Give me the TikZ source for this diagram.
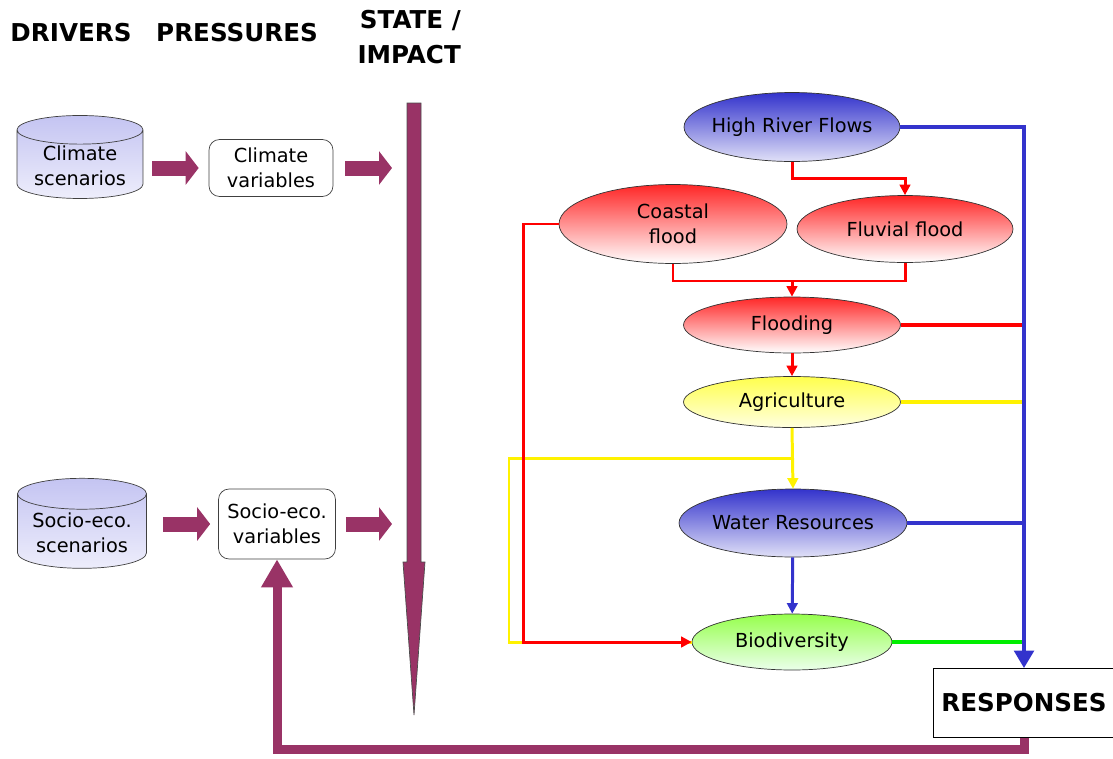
\documentclass[tikz,border=0pt]{standalone}
\usepackage{fontspec}
\setmainfont{DejaVu Sans}
\usetikzlibrary{arrows.meta,shapes.geometric}

\definecolor{maroon}{HTML}{993366}
\definecolor{flowblue}{HTML}{3333CC}
\definecolor{scenfill}{HTML}{C4C4F2}
\definecolor{lgreen}{HTML}{00EE00}

\begin{document}
\begin{tikzpicture}[x=0.02cm, y=-0.02cm,
	every node/.style={font=\fontsize{11}{14}\selectfont},
	head/.style={font=\bfseries\fontsize{14}{20}\selectfont},
	scen/.style={cylinder, shape border rotate=90, aspect=0.3, draw=black!75, top color=scenfill, bottom color=scenfill!30!white, align=center, inner sep=1pt},
	var/.style={draw=black!75, rounded corners=6pt, align=center, fill=white, inner sep=1pt},
	blob/.style={ellipse, draw=black!80, align=center, inner xsep=-0.6cm, inner ysep=0pt},
	bigarrow/.style={maroon, line width=0.3cm, -{Triangle[width=0.66cm,length=0.26cm]}},
	feedback/.style={maroon, line width=0.18cm, -{Triangle[width=0.6cm,length=0.56cm]}},
	link/.style={line width=1.7pt},
	bus/.style={line width=2.8pt},
	tip/.style={-{Triangle[width=6pt,length=6pt]}}]
	\useasboundingbox (0,0) rectangle (1113,758);
	% headings
	\node[head] (drv) at (71,33) {DRIVERS};
	\node[head] (prs) at (237,33) {PRESSURES};
	\node[head, align=right, anchor=east] (sti) at (467,37) {STATE /\\IMPACT};
	% drivers and pressures
	\node[scen, minimum width=2.52cm, minimum height=1.62cm] (cs) at (80,166) {Climate\\scenarios};
	\node[var, minimum width=2.48cm, minimum height=1.14cm] (cv) at (271,168) {Climate\\variables};
	\node[scen, minimum width=2.58cm, minimum height=1.8cm] (ss) at (82,533) {Socio-eco.\\scenarios};
	\node[var, minimum width=2.34cm, minimum height=1.4cm] (sv) at (277,524) {Socio-eco.\\variables};
	\coordinate (in1) at (392,168);
	\coordinate (in2) at (392,524);
	\coordinate (stTop) at (414,103);
	\coordinate (stTip) at (414,715);
	% state / impact
	\node[blob, minimum width=4.32cm, minimum height=1.38cm, top color=flowblue, bottom color=flowblue!15!white] (hrf) at (792,127) {High River Flows};
	\node[blob, minimum width=4.56cm, minimum height=1.58cm, top color=red!85, bottom color=white] (coast) at (673,224) {Coastal\\flood};
	\node[blob, minimum width=4.32cm, minimum height=1.34cm, top color=red!85, bottom color=white] (fluv) at (905,229) {Fluvial flood};
	\node[blob, minimum width=4.34cm, minimum height=1.12cm, top color=red!85, bottom color=white] (flood) at (792,325) {Flooding};
	\node[blob, minimum width=4.34cm, minimum height=1.02cm, top color=yellow!70, bottom color=yellow!12] (agri) at (792,402) {Agriculture};
	\node[blob, minimum width=4.56cm, minimum height=1.36cm, top color=flowblue, bottom color=flowblue!15!white] (water) at (793,523) {Water Resources};
	\node[blob, minimum width=4.0cm, minimum height=1.12cm, top color=green!45!lime!70!white, bottom color=green!8] (bio) at (792,642) {Biodiversity};
	\node[head, draw, fill=white, minimum width=3.64cm, minimum height=1.38cm] (resp) at (1024,703) {RESPONSES};
	\coordinate (cjoin) at (792,281);
	\coordinate (ybr) at (792,458);
	\coordinate (yl) at (509,458);

	\draw[bigarrow, shorten <=0.18cm, shorten >=0.2cm] (cs.east |- cv.west) -- (cv.west);
	\draw[bigarrow, shorten <=0.24cm] (cv.east) -- (in1);
	\draw[bigarrow, shorten <=0.32cm, shorten >=0.16cm] (ss.east |- sv.west) -- (sv.west);
	\draw[bigarrow, shorten <=0.2cm] (sv.east) -- (in2);
	% long state arrow
	\filldraw[fill=maroon, draw=black!70, thin] (stTop) ++(-7,0) -- ++(14,0) -- ++(0,459) -- ++(4,0) -- (stTip) -- ++(-11,-153) -- ++(4,0) -- cycle;

	\draw[link, red, tip] (hrf.south) -- ++(0,17) -| (fluv.north);
	\draw[link, red] (coast.south) |- (cjoin) -| (fluv.south);
	\draw[link, red, tip] (cjoin) -- (flood.north);
	\draw[link, red, tip] (flood) -- (agri);
	\draw[link, yellow, tip] (agri.south) -- (water.north);
	\draw[link, yellow] (ybr) -- (yl) |- (bio.west);
	\draw[link, red, tip] (coast.west) -- ++(-35,0) |- (bio.west);
	\draw[link, flowblue, tip] (water) -- (bio);

	\draw[bus, red] (flood.east) -- (flood.east -| resp.north);
	\draw[bus, yellow] (agri.east) -- (agri.east -| resp.north);
	\draw[bus, flowblue] (water.east) -- (water.east -| resp.north);
	\draw[bus, lgreen] (bio.east) -- (bio.east -| resp.north);
	\draw[bus, flowblue, -{Triangle[width=11pt,length=10pt]}] (hrf.east) -| (resp.north);

	\draw[feedback] (resp.south) -- ++(0,12) -| (sv.south);
\end{tikzpicture}
\end{document}
